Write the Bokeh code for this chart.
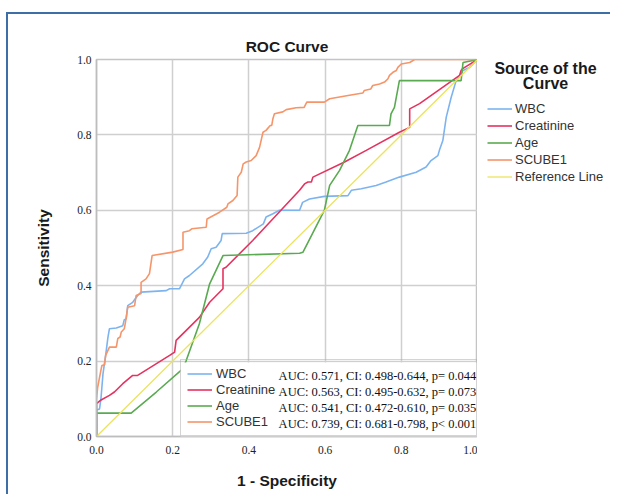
from bokeh.plotting import figure
from bokeh.layouts import row
from bokeh.models import (Legend, LegendItem, Label, Range1d, FixedTicker, NumeralTickFormatter,
                          BoxAnnotation)
from bokeh.embed import file_html
from bokeh.resources import INLINE

# ---- data ----
wbc_x = [0, 0, 0.008, 0.012, 0.017, 0.024, 0.03, 0.034, 0.052, 0.069, 0.073, 0.078, 0.082, 0.095, 0.108, 0.117,
         0.183, 0.192, 0.218, 0.231, 0.244, 0.279, 0.292, 0.301, 0.314, 0.327, 0.33, 0.393, 0.41, 0.438, 0.445,
         0.463, 0.48, 0.533, 0.541, 0.559, 0.598, 0.66, 0.669, 0.695, 0.734, 0.76, 0.795, 0.839, 0.865, 0.878,
         0.896, 0.9, 0.909, 0.918, 0.931, 0.944, 0.962, 0.979, 1.0]
wbc_y = [0, 0.07, 0.073, 0.104, 0.166, 0.215, 0.263, 0.286, 0.288, 0.294, 0.31, 0.312, 0.347, 0.356, 0.374, 0.383,
         0.387, 0.392, 0.392, 0.418, 0.427, 0.458, 0.476, 0.498, 0.502, 0.52, 0.538, 0.539, 0.546, 0.564, 0.582,
         0.591, 0.6, 0.6, 0.621, 0.63, 0.637, 0.639, 0.653, 0.657, 0.666, 0.675, 0.688, 0.701, 0.715, 0.732,
         0.745, 0.759, 0.785, 0.847, 0.9, 0.944, 0.971, 0.979, 1.0]

creat_x = [0, 0, 0.012, 0.034, 0.047, 0.069, 0.095, 0.108, 0.192, 0.205, 0.209, 0.235, 0.27, 0.297, 0.332, 0.332,
           0.34, 0.41, 0.533, 0.546, 0.555, 0.564, 0.568, 0.651, 0.708, 0.795, 0.822, 0.822, 0.848, 0.953, 0.957,
           0.96, 1.0]
creat_y = [0, 0.087, 0.097, 0.109, 0.118, 0.14, 0.162, 0.162, 0.215, 0.224, 0.255, 0.281, 0.316, 0.356, 0.392, 0.445,
           0.449, 0.52, 0.653, 0.67, 0.675, 0.675, 0.688, 0.728, 0.759, 0.807, 0.82, 0.869, 0.883, 0.958, 0.971,
           0.975, 1.0]

age_x = [0, 0, 0.091, 0.157, 0.227, 0.235, 0.27, 0.297, 0.332, 0.533, 0.542, 0.598, 0.612, 0.638, 0.664, 0.686,
         0.769, 0.773, 0.782, 0.795, 0.957, 0.962, 1.0]
age_y = [0, 0.062, 0.062, 0.118, 0.18, 0.2, 0.299, 0.405, 0.48, 0.486, 0.489, 0.6, 0.666, 0.706, 0.759, 0.825,
         0.825, 0.856, 0.873, 0.944, 0.944, 0.992, 1.0]

scube_x = [0, 0, 0.003, 0.008, 0.014, 0.021, 0.024, 0.034, 0.052, 0.056, 0.062, 0.065, 0.073, 0.076, 0.082, 0.1,
           0.104, 0.117, 0.117, 0.13, 0.139, 0.146, 0.2, 0.227, 0.227, 0.244, 0.25, 0.288, 0.29, 0.323, 0.342,
           0.345, 0.358, 0.369, 0.371, 0.38, 0.385, 0.393, 0.406, 0.419, 0.428, 0.437, 0.445, 0.456, 0.46, 0.463,
           0.467, 0.489, 0.498, 0.524, 0.545, 0.552, 0.598, 0.612, 0.664, 0.699, 0.703, 0.72, 0.725, 0.743, 0.756,
           0.765, 0.769, 0.778, 0.787, 0.791, 0.8, 0.822, 0.835, 1.0]
scube_y = [0, 0.10, 0.13, 0.157, 0.188, 0.19, 0.215, 0.237, 0.237, 0.26, 0.264, 0.277, 0.286, 0.303, 0.343, 0.347,
           0.374, 0.379, 0.409, 0.418, 0.432, 0.48, 0.489, 0.496, 0.542, 0.546, 0.551, 0.555, 0.577, 0.595, 0.608,
           0.617, 0.626, 0.639, 0.688, 0.701, 0.723, 0.728, 0.732, 0.745, 0.767, 0.807, 0.812, 0.825, 0.825, 0.843,
           0.856, 0.861, 0.867, 0.872, 0.873, 0.887, 0.887, 0.896, 0.905, 0.911, 0.918, 0.922, 0.931, 0.935, 0.94,
           0.949, 0.958, 0.966, 0.971, 0.979, 0.988, 0.992, 1.0, 1.0]

ref_x = [0, 1]
ref_y = [0, 1]

series_names = ["WBC", "Creatinine", "Age", "SCUBE1"]
auc_texts = ["AUC: 0.571, CI: 0.498-0.644, p= 0.044",
             "AUC: 0.563, CI: 0.495-0.632, p= 0.073",
             "AUC: 0.541, CI: 0.472-0.610, p= 0.035",
             "AUC: 0.739, CI: 0.681-0.798, p< 0.001"]
ticks = [0.0, 0.2, 0.4, 0.6, 0.8, 1.0]

colors = ["#7db4f0", "#e4335f", "#5aaa52", "#f6956a"]
ref_color = "#ece35c"
frame_col = "#3d6fa6"

p = figure(output_backend="svg", toolbar_location=None,
           frame_width=381, frame_height=377,
           min_border_left=88, min_border_right=0, min_border_top=45, min_border_bottom=58,
           x_range=Range1d(0, 1), y_range=Range1d(0, 1),
           title="ROC Curve")

p.title.align = "center"
p.title.offset = 6
p.title.text_font = "Liberation Sans"
p.title.text_font_style = "bold"
p.title.text_font_size = "15.5px"
p.title.text_color = "#1a1a1a"

p.background_fill_color = "white"
p.border_fill_color = "white"
p.outline_line_color = "#c4c4c4"
p.outline_line_width = 1.5

for ax in (p.xaxis, p.yaxis):
    ax.ticker = FixedTicker(ticks=ticks)
    ax.formatter = NumeralTickFormatter(format="0.0")
    ax.major_tick_out = 0
    ax.major_tick_in = 0
    ax.minor_tick_out = 0
    ax.minor_tick_in = 0
    ax.axis_line_color = "#bdbdbd"
    ax.axis_line_width = 1.5
    ax.major_label_text_font = "Liberation Serif"
    ax.major_label_text_font_size = "11.5px"
    ax.major_label_text_color = "#222222"
    ax.axis_label_text_font = "Liberation Sans"
    ax.axis_label_text_font_style = "bold"
    ax.axis_label_text_font_size = "15.5px"
    ax.axis_label_text_color = "#1a1a1a"

p.xaxis.axis_label = "1 - Specificity"
p.yaxis.axis_label = "Sensitivity"
p.xaxis.major_label_standoff = 9
p.yaxis.major_label_standoff = 5
p.xaxis.axis_label_standoff = 15
p.yaxis.axis_label_standoff = 22

p.xgrid.ticker = FixedTicker(ticks=ticks[1:-1])
p.ygrid.ticker = FixedTicker(ticks=ticks[1:-1])
p.grid.grid_line_color = "#cfcfcf"
p.grid.grid_line_width = 1.5

lw = 1.6
r_wbc = p.line(wbc_x, wbc_y, line_color=colors[0], line_width=lw)
r_cre = p.line(creat_x, creat_y, line_color=colors[1], line_width=lw)
r_age = p.line(age_x, age_y, line_color=colors[2], line_width=lw)
r_scu = p.line(scube_x, scube_y, line_color=colors[3], line_width=lw)
r_ref = p.line(ref_x, ref_y, line_color=ref_color, line_width=1.3)
renderers = [r_wbc, r_cre, r_age, r_scu]

# white box behind the inner legend
p.add_layout(BoxAnnotation(left=0.2205, right=1.0, bottom=0.0, top=0.196,
                           fill_color="white", fill_alpha=1.0, line_color=None))

inner = Legend(items=[LegendItem(label=n, renderers=[r]) for n, r in zip(series_names, renderers)],
               location=(84, 0))
inner.label_text_font = "Liberation Sans"
inner.label_text_font_size = "13px"
inner.label_text_color = "#333333"
inner.glyph_width = 25
inner.glyph_height = 15
inner.label_height = 15
inner.spacing = 1
inner.padding = 6
inner.label_standoff = 4
inner.label_width = 254
inner.border_line_color = "#aaaaaa"
inner.border_line_width = 1
inner.background_fill_alpha = 0
p.add_layout(inner, "center")

auc_rows_y = [0.160, 0.118, 0.0756, 0.033]
for t, yy in zip(auc_texts, auc_rows_y):
    p.add_layout(Label(x=0.478, y=yy, text=t, text_font="Liberation Serif", text_font_size="12.5px",
                       text_color="#111111", text_baseline="middle", text_align="left"))

# ---- right panel: legend "Source of the Curve" (ranges in page pixels) ----
p2 = figure(output_backend="svg", toolbar_location=None,
            frame_width=133, frame_height=377,
            min_border_left=0, min_border_right=0, min_border_top=45, min_border_bottom=58,
            x_range=Range1d(478, 611), y_range=Range1d(436, 59))
p2.axis.visible = False
p2.grid.visible = False
p2.outline_line_color = None
p2.background_fill_color = "white"
p2.border_fill_color = "white"

nan = float("nan")
leg_renderers = [p2.line([nan], [nan], line_color=c, line_width=lw) for c in colors]
leg_renderers.append(p2.line([nan], [nan], line_color=ref_color, line_width=1.3))
outer = Legend(items=[LegendItem(label=n, renderers=[r]) for n, r in
                      zip(series_names + ["Reference Line"], leg_renderers)],
               location=(10, 251))
outer.label_text_font = "Liberation Sans"
outer.label_text_font_size = "13px"
outer.label_text_color = "#333333"
outer.glyph_width = 25
outer.glyph_height = 17
outer.label_height = 17
outer.spacing = 0
outer.padding = 0
outer.label_standoff = 3
outer.border_line_color = None
outer.background_fill_alpha = 0
p2.add_layout(outer, "center")

for txt, yy in (("Source of the", 68), ("Curve", 83)):
    p2.add_layout(Label(x=546, y=yy, text=txt, text_font="Liberation Sans", text_font_style="bold",
                        text_font_size="16px", text_color="#1a1a1a", text_align="center",
                        text_baseline="middle"))

lay = row(p, p2, spacing=0)
lay.styles = {"border-top": "2px solid " + frame_col, "border-left": "2px solid " + frame_col,
              "margin-top": "12px", "margin-left": "6px"}

open("out.html", "w").write(file_html(lay, INLINE))
